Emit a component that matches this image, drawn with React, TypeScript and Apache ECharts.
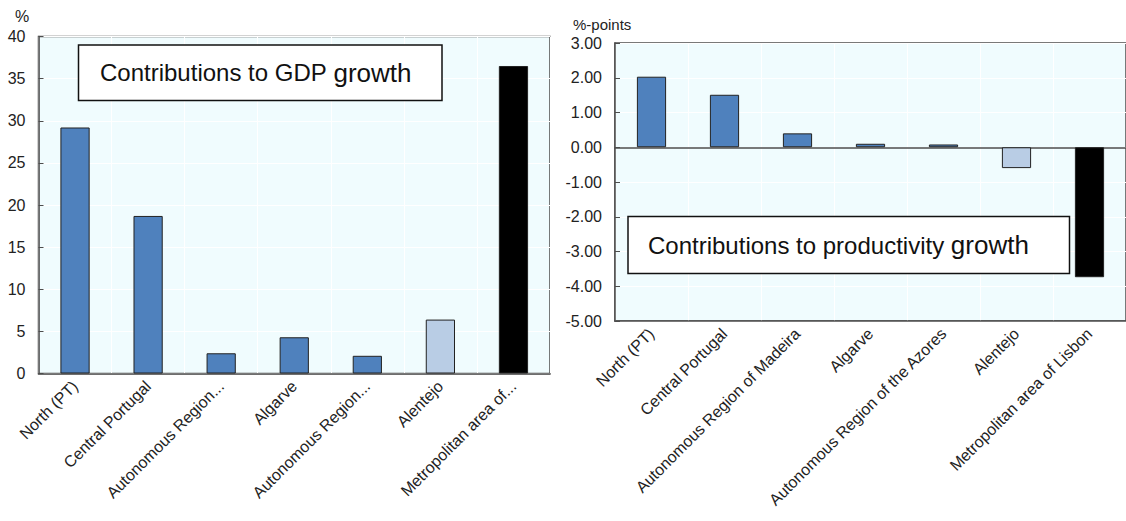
import React, { useEffect, useRef } from "react";
import * as echarts from "echarts";

// ---- data ----
const categories = [
  "North (PT)",
  "Central Portugal",
  "Autonomous Region of Madeira",
  "Algarve",
  "Autonomous Region of the Azores",
  "Alentejo",
  "Metropolitan area of Lisbon",
];
const gdpCategoryLabels = [
  "North (PT)",
  "Central Portugal",
  "Autonomous Region...",
  "Algarve",
  "Autonomous Region...",
  "Alentejo",
  "Metropolitan area of...",
];
const gdpValues = [29.2, 18.7, 2.4, 4.3, 2.1, 6.4, 36.5];
const productivityValues = [2.03, 1.51, 0.4, 0.1, 0.08, -0.6, -3.74];
const barColors = ["#4f81bd", "#4f81bd", "#4f81bd", "#4f81bd", "#4f81bd", "#b9cde5", "#000000"];
const gdpAxis = { min: 0, max: 40, interval: 5 };
const prodAxis = { min: -5, max: 3, interval: 1 };
const gdpTitle = ["Contributions to GDP ", "growth"];
const prodTitle = ["Contributions to productivity ", "growth"];
const gdpUnit = "%";
const prodUnit = "%-points";

const NARROW = "'Liberation Sans Narrow', 'Arial Narrow', 'Liberation Sans', Arial, sans-serif";
const SANS = "'Liberation Sans', Arial, sans-serif";
const BG = "#f0fcfe";
const FRAME = "#4d4d4d";

function barData(values: number[]) {
  return values.map((v, i) => ({ value: v, itemStyle: { color: barColors[i] } }));
}

function titleBox(x: number, y: number, w: number, h: number, tx: number, parts: string[]) {
  return {
    type: "group",
    children: [
      {
        type: "rect",
        shape: { x, y, width: w, height: h },
        style: { fill: "#ffffff", stroke: "#111111", lineWidth: 1.5 },
        z: 10,
      },
      {
        type: "text",
        x: tx,
        y: y + h / 2,
        z: 11,
        style: {
          text: `{a|${parts[0]}}{b|${parts[1]}}`,
          verticalAlign: "middle",
          align: "left",
          rich: {
            a: { fontFamily: SANS, fontSize: 24, fill: "#111111" },
            b: { fontFamily: SANS, fontSize: 26, fill: "#111111" },
          },
        },
      },
    ],
  };
}

export default function App() {
  const ref = useRef<HTMLDivElement>(null);

  useEffect(() => {
    if (!ref.current) return;
    const chart = echarts.init(ref.current, undefined, { renderer: "svg" });

    const yLabel = { color: "#222", fontFamily: NARROW, fontSize: 16, margin: 13 };
    const xLabel = { color: "#222", fontFamily: NARROW, fontSize: 16, rotate: 45, margin: 10, interval: 0 };

    const option: any = {
      animation: false,
      grid: [
        {
          left: 38.5,
          top: 36.5,
          width: 511.5,
          height: 337,
          show: true,
          backgroundColor: BG,
          borderColor: FRAME,
          borderWidth: 1.5,
        },
        {
          left: 615,
          top: 43,
          width: 513,
          height: 278,
          show: true,
          backgroundColor: BG,
          borderColor: FRAME,
          borderWidth: 1.5,
        },
      ],
      xAxis: [
        {
          type: "category",
          gridIndex: 0,
          data: categories,
          axisLine: { lineStyle: { color: FRAME, width: 1.5 } },
          axisTick: { inside: true, length: 5, lineStyle: { color: FRAME } },
          splitLine: { show: true, lineStyle: { color: "#ffffff", width: 1 } },
          axisLabel: { ...xLabel, formatter: (_: string, i: number) => gdpCategoryLabels[i] },
        },
        {
          type: "category",
          gridIndex: 1,
          data: categories,
          position: "bottom",
          axisLine: { onZero: false, lineStyle: { color: FRAME, width: 1.5 } },
          axisTick: { show: false },
          splitLine: { show: true, lineStyle: { color: "#ffffff", width: 1 } },
          axisLabel: { ...xLabel },
        },
        {
          type: "category",
          gridIndex: 1,
          data: categories,
          position: "bottom",
          axisLine: { onZero: true, lineStyle: { color: FRAME, width: 1.5 } },
          axisTick: { inside: true, length: 5, lineStyle: { color: FRAME } },
          axisLabel: { show: false },
          splitLine: { show: false },
        },
      ],
      yAxis: [
        {
          type: "value",
          gridIndex: 0,
          ...gdpAxis,
          axisLine: { show: true, lineStyle: { color: FRAME, width: 1.5 } },
          axisTick: { show: true, inside: true, length: 5, lineStyle: { color: FRAME } },
          splitLine: { show: true, lineStyle: { color: "#ffffff", width: 1 } },
          axisLabel: { ...yLabel },
        },
        {
          type: "value",
          gridIndex: 1,
          ...prodAxis,
          axisLine: { show: true, lineStyle: { color: FRAME, width: 1.5 } },
          axisTick: { show: true, inside: true, length: 5, lineStyle: { color: FRAME } },
          splitLine: { show: true, lineStyle: { color: "#ffffff", width: 1 } },
          axisLabel: { ...yLabel, formatter: (v: number) => v.toFixed(2) },
        },
      ],
      series: [
        {
          type: "bar",
          xAxisIndex: 0,
          yAxisIndex: 0,
          data: barData(gdpValues),
          barWidth: "40%",
          itemStyle: { borderColor: "#222222", borderWidth: 1 },
        },
        {
          type: "bar",
          xAxisIndex: 1,
          yAxisIndex: 1,
          data: barData(productivityValues),
          barWidth: "40%",
          itemStyle: { borderColor: "#222222", borderWidth: 1 },
        },
      ],
      graphic: [
        titleBox(78.5, 45, 363.5, 55.5, 100, gdpTitle),
        titleBox(628, 216.5, 441.5, 57, 648, prodTitle),
        {
          type: "text",
          x: 22,
          y: 16,
          style: { text: gdpUnit, fontFamily: NARROW, fontSize: 16, fill: "#222", align: "center", verticalAlign: "middle" },
        },
        {
          type: "text",
          x: 573,
          y: 24,
          style: { text: prodUnit, fontFamily: NARROW, fontSize: 15, fill: "#222", align: "left", verticalAlign: "middle" },
        },
      ],
    };

    chart.setOption(option);
    return () => chart.dispose();
  }, []);

  return (
    <div
      ref={ref}
      style={{ position: "fixed", left: 0, top: 0, width: 1126, height: 521, background: "#ffffff" }}
    />
  );
}
